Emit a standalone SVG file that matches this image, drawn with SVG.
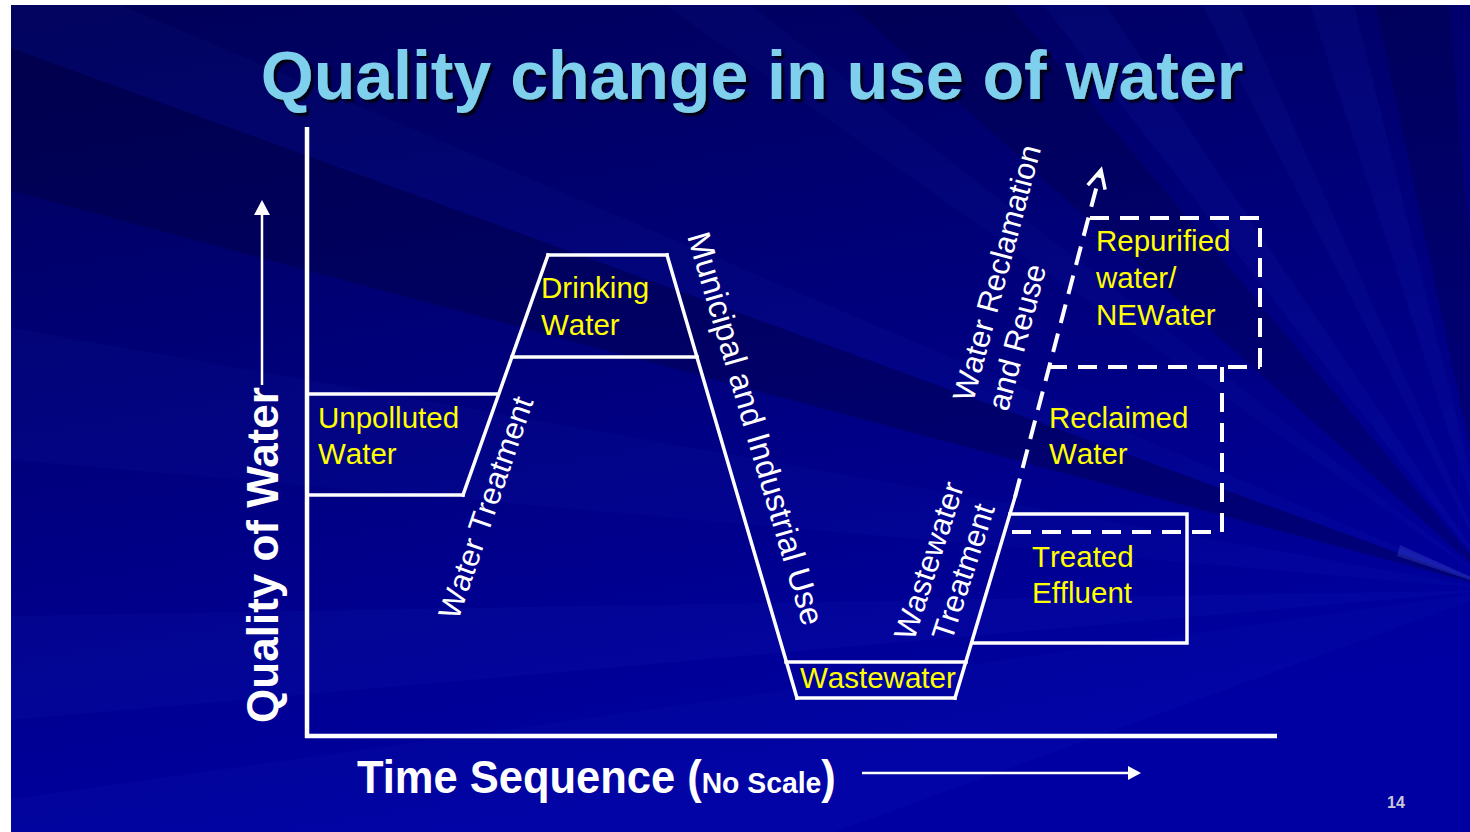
<svg xmlns="http://www.w3.org/2000/svg" width="1470" height="832" viewBox="0 0 1470 832">
<defs>
<style>
.ln{stroke:#ffffff;stroke-width:3.5;fill:none;stroke-linejoin:miter;stroke-linecap:square}
.dash{stroke:#ffffff;stroke-width:4;fill:none;stroke-dasharray:19 11;stroke-linecap:butt}
.ax{stroke:#ffffff;stroke-width:4.5;fill:none}
.lbl{font-family:"Liberation Sans",Arial,sans-serif;font-size:29.5px;fill:#FFFF00;font-kerning:none}
.wl{font-family:"Liberation Sans",Arial,sans-serif;font-size:31px;fill:#ffffff;font-kerning:none}
.ray{fill:#3a5cff}
.dark{fill:#000030}
</style>
<linearGradient id="bg" x1="0" y1="0" x2="0.3" y2="1">
<stop offset="0" stop-color="#000058"/>
<stop offset="0.5" stop-color="#00007c"/>
<stop offset="1" stop-color="#0000a2"/>
</linearGradient>
<clipPath id="slide"><rect x="11" y="5" width="1459" height="827"/></clipPath>
<filter id="shadow" x="-5%" y="-20%" width="110%" height="140%">
<feDropShadow dx="3" dy="3" stdDeviation="1" flood-color="#000000" flood-opacity="0.85"/>
</filter>
<marker id="chev" markerUnits="userSpaceOnUse" markerWidth="30" markerHeight="30" viewBox="0 0 30 30" refX="22" refY="15" orient="auto">
<path d="M4,6 L22,15 L4,24" fill="none" stroke="#ffffff" stroke-width="3.5" stroke-dasharray="none"/>
</marker>
<marker id="tri" markerUnits="userSpaceOnUse" markerWidth="20" markerHeight="20" viewBox="0 0 20 20" refX="4" refY="10" orient="auto">
<path d="M4,3 L17,10 L4,17 Z" fill="#ffffff"/>
</marker>
</defs>
<rect x="0" y="0" width="1470" height="832" fill="#ffffff"/>
<g id="background" clip-path="url(#slide)">
<rect x="11" y="5" width="1459" height="827" fill="url(#bg)"/>
<polygon class="dark" opacity="0.3" points="1500,590 -432,72 -379,-94"/>
<polygon class="dark" opacity="0.25" points="1500,590 14,-748 214,-942"/>
<polygon class="dark" opacity="0.25" points="1500,590 1084,-1366 1326,-1402"/>
<polygon class="ray" opacity="0.04" points="1500,590 -379,-94 -341,-191"/>
<polygon class="ray" opacity="0.04" points="1500,590 -138,-557 -76,-641"/>
<polygon class="ray" opacity="0.06" points="1500,590 269,-986 382,-1068"/>
<polygon class="ray" opacity="0.05" points="1500,590 592,-1192 687,-1237"/>
<polygon class="ray" opacity="0.06" points="1500,590 882,-1312 1016,-1350"/>
<polygon class="ray" opacity="0.05" points="1500,590 -492,764 -500,625"/>
<polygon class="ray" opacity="0.04" points="1500,590 -492,416 -470,243"/>
<polygon class="ray" opacity="0.04" points="1500,590 -379,1274 -481,868"/>
<polygon fill="#7f98ff" opacity="0.18" points="1500,590 1400,545 1397,556"/>
</g>
<text id="title" x="752" y="99" text-anchor="middle" filter="url(#shadow)" style="font-family:'Liberation Sans',Arial,sans-serif;font-size:68px;font-weight:bold;fill:#7fd0ec">Quality change in use of water</text>
<g id="axes">
<line class="ax" x1="307" y1="127" x2="307" y2="738"/>
<line class="ax" x1="305" y1="736" x2="1277" y2="736"/>
<line x1="262" y1="385" x2="262" y2="212" stroke="#ffffff" stroke-width="2.5"/>
<polygon points="262,200 254,215 270,215" fill="#ffffff"/>
<text transform="translate(278,555) rotate(-90)" text-anchor="middle" style="font-family:'Liberation Sans',Arial,sans-serif;font-size:44px;font-weight:bold;fill:#ffffff">Quality of Water</text>
<text transform="translate(357,793) scale(0.945,1)" style="font-family:'Liberation Sans',Arial,sans-serif;font-size:46px;font-weight:bold;fill:#ffffff">Time Sequence (<tspan style="font-size:30px">No Scale</tspan>)</text>
<line x1="862" y1="773" x2="1128" y2="773" stroke="#ffffff" stroke-width="2.5" marker-end="url(#tri)"/>
<text x="1387" y="808" style="font-family:'Liberation Sans',Arial,sans-serif;font-size:16px;font-weight:bold;fill:#c8c8d8">14</text>
</g>
<g id="connectors">
<line class="ln" x1="463" y1="495" x2="548" y2="255"/>
<line class="ln" x1="667" y1="255" x2="797" y2="698"/>
<line class="ln" x1="955" y1="698" x2="1015" y2="497"/>
<line class="dash" x1="1015" y1="497" x2="1101" y2="170" marker-end="url(#chev)"/>
<text class="wl" transform="translate(458,621) rotate(-71)">Water Treatment</text>
<text class="wl" transform="translate(687,236) rotate(73.5)" style="font-size:32.5px">Municipal and Industrial Use</text>
<text class="wl" transform="translate(939,564) rotate(-72)" text-anchor="middle"><tspan x="0" y="0">Wastewater</tspan><tspan x="0" y="36">Treatment</tspan></text>
<text class="wl" transform="translate(973,403) rotate(-75)"><tspan x="0" y="0">Water Reclamation</tspan><tspan x="0" y="36">and Reuse</tspan></text>
</g>
<g id="node-unpolluted">
<line class="ln" x1="307" y1="394" x2="498" y2="394"/>
<line class="ln" x1="307" y1="495" x2="463" y2="495"/>
<text class="lbl" x="318" y="428">Unpolluted</text>
<text class="lbl" x="318" y="464">Water</text>
</g>
<g id="node-drinking">
<line class="ln" x1="548" y1="255" x2="667" y2="255"/>
<line class="ln" x1="512" y1="357" x2="697" y2="357"/>
<text class="lbl" x="541" y="298">Drinking</text>
<text class="lbl" x="541" y="335">Water</text>
</g>
<g id="node-wastewater">
<line class="ln" x1="786" y1="662" x2="966" y2="662"/>
<line class="ln" x1="797" y1="698" x2="955" y2="698"/>
<text class="lbl" x="800" y="688">Wastewater</text>
</g>
<g id="node-treated">
<polyline class="ln" points="1010,514 1187,514 1187,643 973,643"/>
<text class="lbl" x="1032" y="567">Treated</text>
<text class="lbl" x="1032" y="603">Effluent</text>
</g>
<g id="node-reclaimed">
<polyline class="dash" points="1012,532 1222,532 1222,367"/>
<line class="dash" x1="1048" y1="367" x2="1260" y2="367"/>
<text class="lbl" x="1049" y="428">Reclaimed</text>
<text class="lbl" x="1049" y="464">Water</text>
</g>
<g id="node-repurified">
<polyline class="dash" points="1260,367 1260,218 1088,218"/>
<text class="lbl" x="1096" y="251">Repurified</text>
<text class="lbl" x="1096" y="288">water/</text>
<text class="lbl" x="1096" y="325">NEWater</text>
</g>
</svg>
